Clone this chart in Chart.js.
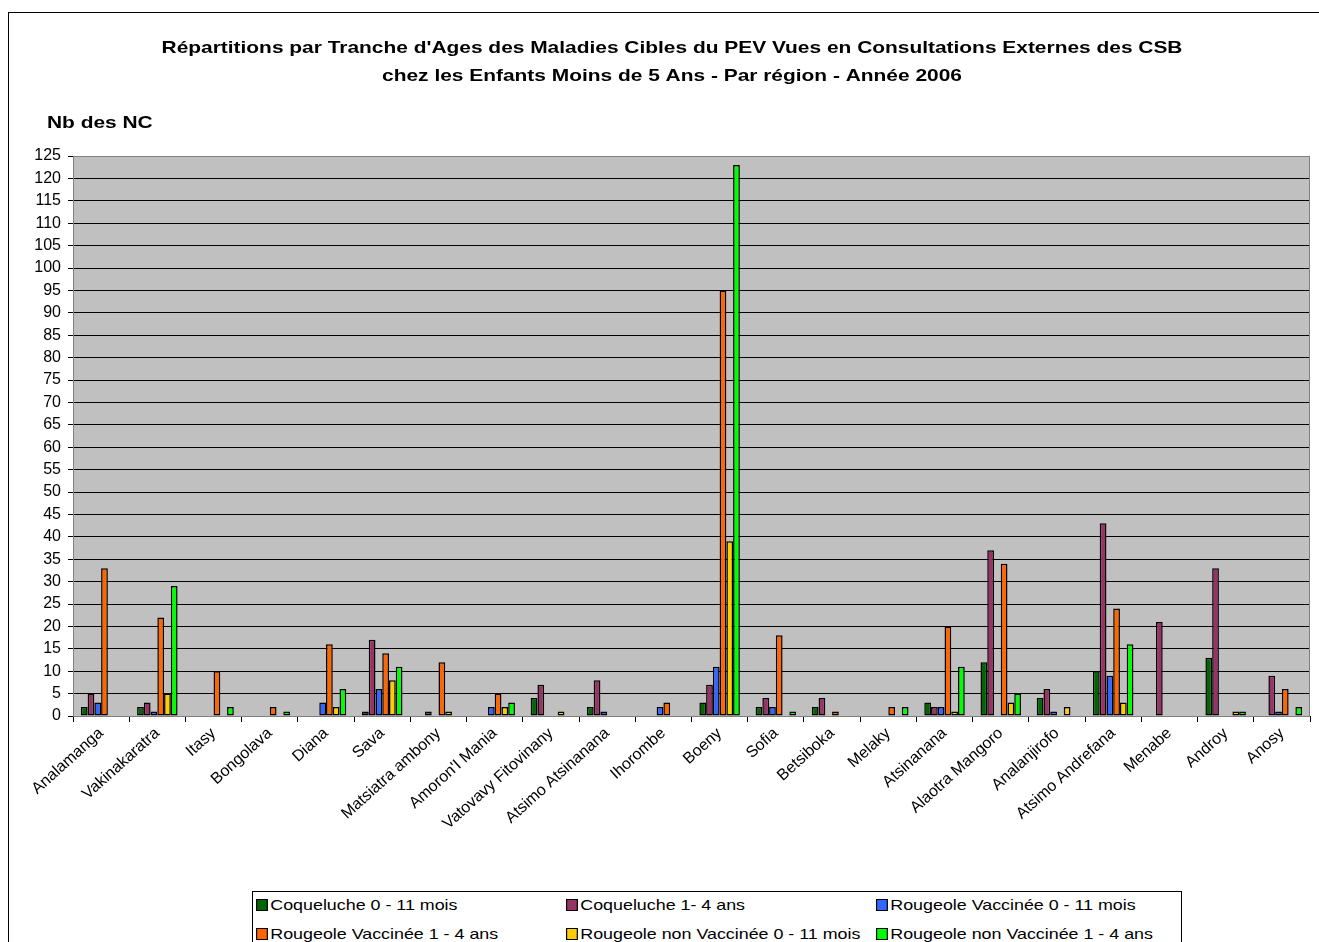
<!DOCTYPE html>
<html>
<head>
<meta charset="utf-8">
<script src="https://cdn.jsdelivr.net/npm/chart.js@4"></script>
<style>
  body { margin: 0; background: #fff; }
  #frame { position: absolute; left: 8px; top: 12px; width: 1320px; height: 940px; border: 1px solid #000; box-sizing: border-box; }
  #wrap { position: absolute; left: 0; top: 0; width: 1319px; height: 942px; }
  #legend { position: absolute; left: 252px; top: 891px; width: 930px; height: 60px; border: 1px solid #000; background: #fff;
            font-family: "Liberation Sans", Arial, sans-serif; font-size: 15px; color: #000; box-sizing: border-box; }
  .item { position: absolute; white-space: nowrap; line-height: 17px; transform: scaleX(1.19); transform-origin: 0 50%; }
  .sw { display: inline-block; width: 8px; height: 10px; border: 1.5px solid #000; margin-right: 2px; vertical-align: -1px; }
</style>
</head>
<body>
<div id="frame"></div>
<div id="wrap"><canvas id="myChart" width="1319" height="942"></canvas></div>
<div id="legend"></div>
<script>
var regions = ['Analamanga', 'Vakinakaratra', 'Itasy', 'Bongolava', 'Diana', 'Sava', 'Matsiatra ambony',
  "Amoron'I Mania", 'Vatovavy Fitovinany', 'Atsimo Atsinanana', 'Ihorombe', 'Boeny', 'Sofia', 'Betsiboka',
  'Melaky', 'Atsinanana', 'Alaotra Mangoro', 'Analanjirofo', 'Atsimo Andrefana', 'Menabe', 'Androy', 'Anosy'];

var coq011 = [2, 2, 0, 0, 0, 1, 0, 0, 4, 2, 0, 3, 2, 2, 0, 3, 12, 4, 10, 0, 13, 0];
var coq14  = [5, 3, 0, 0, 0, 17, 1, 0, 7, 8, 0, 7, 4, 4, 0, 2, 37, 6, 43, 21, 33, 9];
var rvac011 = [3, 1, 0, 0, 3, 6, 0, 2, 0, 1, 2, 11, 2, 0, 0, 2, 0, 1, 9, 0, 0, 1];
var rvac14 = [33, 22, 10, 2, 16, 14, 12, 5, 0, 0, 3, 95, 18, 1, 2, 20, 34, 0, 24, 0, 0, 6];
var rnon011 = [0, 5, 0, 0, 2, 8, 1, 2, 1, 0, 0, 39, 0, 0, 0, 1, 3, 2, 3, 0, 1, 0];
var rnon14 = [0, 29, 2, 1, 6, 11, 0, 3, 0, 0, 0, 123, 1, 0, 2, 11, 5, 0, 16, 0, 1, 2];

var seriesNames = ['Coqueluche 0 - 11 mois', 'Coqueluche 1- 4 ans', 'Rougeole Vaccinée 0 - 11 mois',
  'Rougeole Vaccinée 1 - 4 ans', 'Rougeole non Vaccinée 0 - 11 mois', 'Rougeole non Vaccinée 1 - 4 ans'];
var seriesValues = [coq011, coq14, rvac011, rvac14, rnon011, rnon14];
var seriesColors = ['#006600', '#993366', '#3366FF', '#FF6600', '#FFCC00', '#00FF00'];

var yTicks = { min: 0, max: 125, step: 5 };
var titleLines = ["Répartitions par Tranche d'Ages des Maladies Cibles du PEV Vues en Consultations Externes des CSB",
  'chez les Enfants Moins de 5 Ans - Par région - Année 2006'];
var yTitle = 'Nb des NC';

var FONT = '"Liberation Sans", Arial, sans-serif';
var STRETCH = 1.23;

var datasets = seriesNames.map(function (name, i) {
  return {
    label: name,
    data: seriesValues[i],
    backgroundColor: seriesColors[i],
    borderColor: '#000',
    borderWidth: function (c) { return c.raw ? 1.5 : 0; },
    borderSkipped: false,
    categoryPercentage: 0.72,
    barPercentage: 1.0
  };
});

// stretched text, like the wide rendering of the original
function wideText(c, txt, x, y, align) {
  c.save();
  c.translate(x, y);
  c.scale(STRETCH, 1);
  c.textAlign = align;
  c.fillText(txt, 0, 0);
  c.restore();
}

var textPlugin = {
  id: 'texts',
  beforeDraw: function (chart) {
    var c = chart.ctx, a = chart.chartArea;
    c.save();
    c.fillStyle = '#C0C0C0';
    c.fillRect(a.left, a.top, a.right - a.left, a.bottom - a.top);
    c.restore();
  },
  afterDraw: function (chart) {
    var c = chart.ctx, a = chart.chartArea;
    c.save();
    c.strokeStyle = '#808080';
    c.lineWidth = 1;
    c.strokeRect(a.left + 0.5, a.top + 0.5, a.right - a.left - 1, a.bottom - a.top);
    c.fillStyle = '#000';
    c.font = 'bold 17px ' + FONT;
    c.textBaseline = 'middle';
    wideText(c, titleLines[0], 672, 48, 'center');
    wideText(c, titleLines[1], 672, 76, 'center');
    wideText(c, yTitle, 47, 123, 'left');
    c.restore();
  }
};

var ctx = document.getElementById('myChart');
new Chart(ctx, {
  type: 'bar',
  data: { labels: regions, datasets: datasets },
  plugins: [textPlugin],
  options: {
    responsive: false,
    animation: false,
    layout: { padding: { top: 156, left: 0, right: 9, bottom: 0 } },
    plugins: { legend: { display: false }, title: { display: false }, tooltip: { enabled: false } },
    scales: {
      x: {
        grid: { drawOnChartArea: false, color: '#000', tickLength: 6, offset: true },
        border: { color: '#000', width: 1 },
        ticks: { color: '#000', font: { family: FONT, size: 16 }, minRotation: 42, maxRotation: 42, autoSkip: false, padding: 2 },
        afterFit: function (s) { s.height = 226; s.paddingLeft = 0; s.paddingRight = 0; }
      },
      y: {
        min: yTicks.min,
        max: yTicks.max,
        grid: { color: '#000', lineWidth: 1, tickLength: 5 },
        border: { color: '#000', width: 1 },
        ticks: { stepSize: yTicks.step, color: '#000', font: { family: FONT, size: 16 }, padding: 7 },
        afterFit: function (s) { s.width = 73; s.paddingTop = 0; s.paddingBottom = 0; }
      }
    }
  }
});

// legend in three columns
var lg = document.getElementById('legend');
var cols = [3, 313, 623], rows = [4, 33];
seriesNames.forEach(function (name, i) {
  var d = document.createElement('div');
  d.className = 'item';
  d.style.left = cols[i % 3] + 'px';
  d.style.top = rows[Math.floor(i / 3)] + 'px';
  d.innerHTML = '<span class="sw" style="background:' + seriesColors[i] + '"></span>' + name;
  lg.appendChild(d);
});
</script>
</body>
</html>
